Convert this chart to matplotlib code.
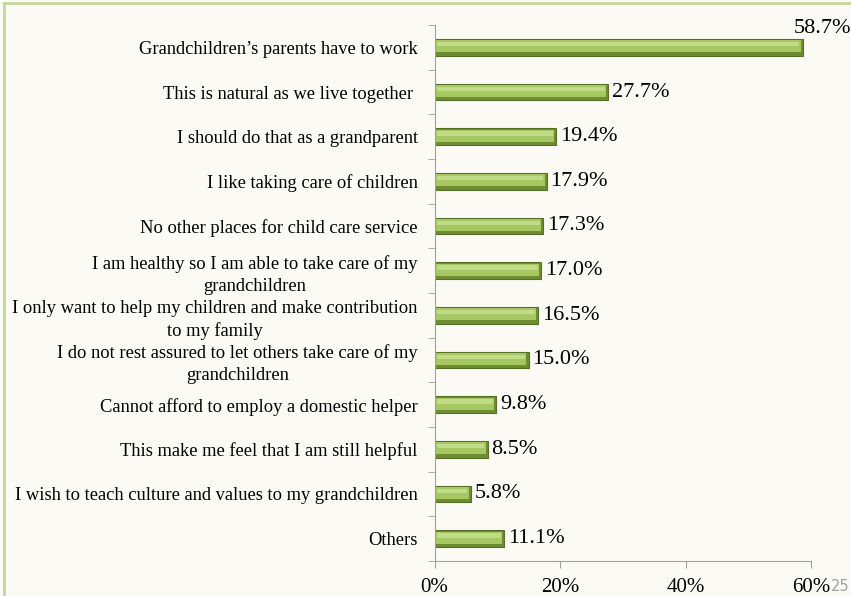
import matplotlib.pyplot as plt
import numpy as np

plt.rcParams['font.family'] = ['Liberation Serif', 'DejaVu Serif']

categories = [
    "Grandchildren\u2019s parents have to work",
    "This is natural as we live together ",
    "I should do that as a grandparent",
    "I like taking care of children",
    "No other places for child care service",
    "I am healthy so I am able to take care of my\ngrandchildren",
    "I only want to help my children and make contribution\nto my family",
    "I do not rest assured to let others take care of my\ngrandchildren",
    "Cannot afford to employ a domestic helper",
    "This make me feel that I am still helpful",
    "I wish to teach culture and values to my grandchildren",
    "Others",
]
values = [58.7, 27.7, 19.4, 17.9, 17.3, 17.0, 16.5, 15.0, 9.8, 8.5, 5.8, 11.1]
xticks = [0, 20, 40, 60]

fig = plt.figure(figsize=(8.51, 5.96), dpi=100)
fig.patch.set_facecolor('#FCFAF5')

# light green frame on left and top
fig.add_artist(plt.Line2D([0.0045, 0.0045], [0, 0.995], transform=fig.transFigure,
                          color='#C3D69B', lw=2))
fig.add_artist(plt.Line2D([0.0045, 1], [0.995, 0.995], transform=fig.transFigure,
                          color='#C3D69B', lw=2))

ax = fig.add_axes([434.5 / 851, 1 - 561 / 596, (811 - 434.5) / 851, (561 - 25) / 596])
ax.set_facecolor('none')

y = np.arange(len(categories))
h = 0.38
# bevelled green bars: dark base, main body, highlight strip
ax.barh(y, values, height=h, color='#6E8C32', edgecolor='#56702A', linewidth=0.8)
ax.barh(y - 0.02, [v - 0.5 for v in values], height=h * 0.7, left=0.15,
        color='#A6C761', linewidth=0)
ax.barh(y - 0.07, [v - 0.9 for v in values], height=h * 0.25, left=0.35,
        color='#C2DB88', linewidth=0)

for yi, v in zip(y, values):
    if v > 50:
        ax.text(v - 1.5, yi - 0.2, f"{v}%", ha='left', va='bottom', fontsize=16)
    else:
        ax.text(v + 0.6, yi, f"{v}%", ha='left', va='center', fontsize=16)

ax.set_ylim(len(categories) - 0.5, -0.5)
ax.set_xlim(0, 60)
ax.set_yticks(y)
ax.set_yticklabels(categories, fontsize=13.3, multialignment='center',
                   linespacing=1.35)
ax.set_yticks(np.arange(len(categories) + 1) - 0.5, minor=True)
ax.tick_params(axis='y', which='major', length=0, pad=12)
ax.tick_params(axis='y', which='minor', length=5, color='#A0A0A0', direction='out')
ax.set_xticks(xticks)
ax.set_xticklabels([f"{t}%" for t in xticks], fontsize=15)
ax.tick_params(axis='x', length=5, color='#A0A0A0', pad=7)

for s in ['top', 'right']:
    ax.spines[s].set_visible(False)
for s in ['left', 'bottom']:
    ax.spines[s].set_color('#A0A0A0')

fig.text(831 / 851, 1 - 594 / 596, "25", fontsize=10.5, color='#A0A0A0',
         family='DejaVu Sans', ha='left', va='bottom')

plt.savefig('out.png', dpi=100, facecolor=fig.get_facecolor())
